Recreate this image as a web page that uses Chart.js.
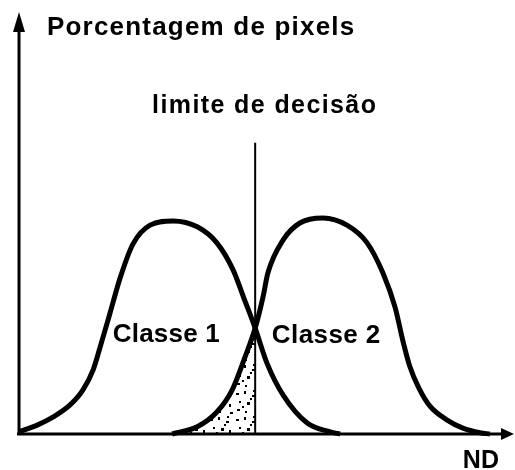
<!DOCTYPE html>
<html>
<head>
<meta charset="utf-8">
<script src="https://cdn.jsdelivr.net/npm/chart.js@4"></script>
<style>
  html, body { margin: 0; padding: 0; background: #fff; }
  #wrap { width: 515px; height: 470px; }
</style>
</head>
<body>
<div id="wrap"><canvas id="c" width="515" height="470"></canvas></div>
<script>
// ---- data (ND on x, percentage of pixels on y, arbitrary 0..100 units) ----
const class1X = [0, 3.7, 6.9, 10.4, 13.0, 15.1, 16.5, 18.5, 20.6, 23.2, 26.7, 31.4, 36.3, 40.3, 43.6, 45.8, 48.1, 50.5, 53.8, 58.7, 63.4, 65.4];
const class1Y = [0.5, 2.1, 4.0, 6.9, 10.4, 15.2, 20.5, 28.5, 37.0, 45.0, 49.5, 50.5, 49.1, 45.3, 38.9, 32.2, 25.1, 16.8, 9.2, 2.6, 0.5, 0];
const class2X = [31.2, 36.3, 40.3, 43.4, 45.8, 48.1, 49.7, 50.7, 53.8, 57.2, 61.9, 66.8, 70.9, 74.1, 76.6, 78.2, 79.6, 81.4, 83.7, 87.2, 90.4, 93.9, 95.9];
const class2Y = [0, 1.7, 5.2, 10.4, 17.5, 25.1, 32.5, 38.2, 46.0, 50.0, 51.2, 49.5, 45.3, 38.2, 30.0, 22.0, 16.0, 11.0, 6.6, 3.3, 1.4, 0.3, 0];
const decisionX = [48.1, 48.1];
const decisionY = [0, 69.0];
const labelTexts = ['Porcentagem de pixels', 'limite de decisão', 'Classe 1', 'Classe 2', 'ND'];

// ---- build points ----
const pts = (xs, ys) => xs.map((x, i) => ({ x: x, y: ys[i] }));
const class1 = pts(class1X, class1Y);
const class2 = pts(class2X, class2Y);
const overlap = class2.filter(p => p.x <= decisionX[0]);
const decision = pts(decisionX, decisionY);

// label anchors (data coords, left/baseline) and styles
const labelPos = [
  { x: 5.7, y: 94.5, size: 26, sp: 1.2 },
  { x: 27.1, y: 76.1, size: 25, sp: 1.4 },
  { x: 19.1, y: 21.8, size: 26, sp: 0.2 },
  { x: 51.5, y: 21.6, size: 26, sp: 0.4 },
  { x: 90.4, y: -8.1, size: 25, sp: 0 }
];

function stipple() {
  const c = document.createElement('canvas');
  c.width = 26; c.height = 26;
  const g = c.getContext('2d');
  g.fillStyle = '#fff'; g.fillRect(0, 0, 26, 26);
  g.fillStyle = '#000';
  const dots = [[2,3,3,2],[10,1,2,3],[18,5,3,2],[5,11,2,2],[13,12,3,3],[21,14,2,3],[3,19,3,2],[11,21,2,2],[16,8,2,2],[22,22,3,2],[8,16,2,2],[19,0,2,2]];
  dots.forEach(d => g.fillRect(d[0], d[1], d[2], d[3]));
  return c;
}

const axesPlugin = {
  id: 'axesArrows',
  afterDatasetsDraw(chart) {
    const { ctx, chartArea: a } = chart;
    ctx.save();
    ctx.strokeStyle = '#000'; ctx.fillStyle = '#000';
    ctx.lineWidth = 3;
    ctx.beginPath();
    ctx.moveTo(a.left, a.bottom + 1);
    ctx.lineTo(a.left, a.top + 8);
    ctx.moveTo(a.left - 2, a.bottom);
    ctx.lineTo(chart.width - 8, a.bottom);
    ctx.stroke();
    // y arrow
    ctx.beginPath();
    ctx.moveTo(a.left, a.top);
    ctx.lineTo(a.left - 6, a.top + 20);
    ctx.lineTo(a.left + 6, a.top + 20);
    ctx.closePath(); ctx.fill();
    // x arrow
    ctx.beginPath();
    ctx.moveTo(chart.width - 1, a.bottom);
    ctx.lineTo(chart.width - 14, a.bottom - 6);
    ctx.lineTo(chart.width - 14, a.bottom + 6);
    ctx.closePath(); ctx.fill();
    // labels
    const xs = chart.scales.x, ys = chart.scales.y;
    ctx.textBaseline = 'alphabetic';
    ctx.textAlign = 'left';
    labelTexts.forEach((t, i) => {
      const p = labelPos[i];
      ctx.font = 'bold ' + p.size + 'px "Liberation Sans", Arial, sans-serif';
      ctx.letterSpacing = p.sp + 'px';
      ctx.fillText(t, xs.getPixelForValue(p.x), ys.getPixelForValue(p.y));
    });
    ctx.restore();
  }
};

const ctx = document.getElementById('c').getContext('2d');
const pattern = ctx.createPattern(stipple(), 'repeat');

new Chart(ctx, {
  type: 'line',
  data: {
    datasets: [
      { label: 'decisão', data: decision, borderColor: '#000', borderWidth: 2, pointRadius: 0, tension: 0, fill: false, clip: false, order: 0 },
      { label: 'Classe 1', data: class1, borderColor: '#000', borderWidth: 5, pointRadius: 0, cubicInterpolationMode: 'monotone', fill: false, clip: false, order: 1 },
      { label: 'Classe 2', data: class2, borderColor: '#000', borderWidth: 5, pointRadius: 0, cubicInterpolationMode: 'monotone', fill: false, clip: false, order: 1 },
      { label: 'erro', data: overlap, borderWidth: 0, borderColor: 'rgba(0,0,0,0)', backgroundColor: pattern, pointRadius: 0, cubicInterpolationMode: 'monotone', fill: 'origin', clip: false, order: 5 }
    ]
  },
  options: {
    responsive: false,
    animation: false,
    events: [],
    layout: { padding: { left: 19, right: 5, top: 12, bottom: 36 } },
    plugins: { legend: { display: false }, tooltip: { enabled: false }, title: { display: false } },
    scales: {
      x: { type: 'linear', min: 0, max: 100, display: false },
      y: { type: 'linear', min: 0, max: 100, display: false }
    }
  },
  plugins: [axesPlugin]
});
</script>
</body>
</html>
